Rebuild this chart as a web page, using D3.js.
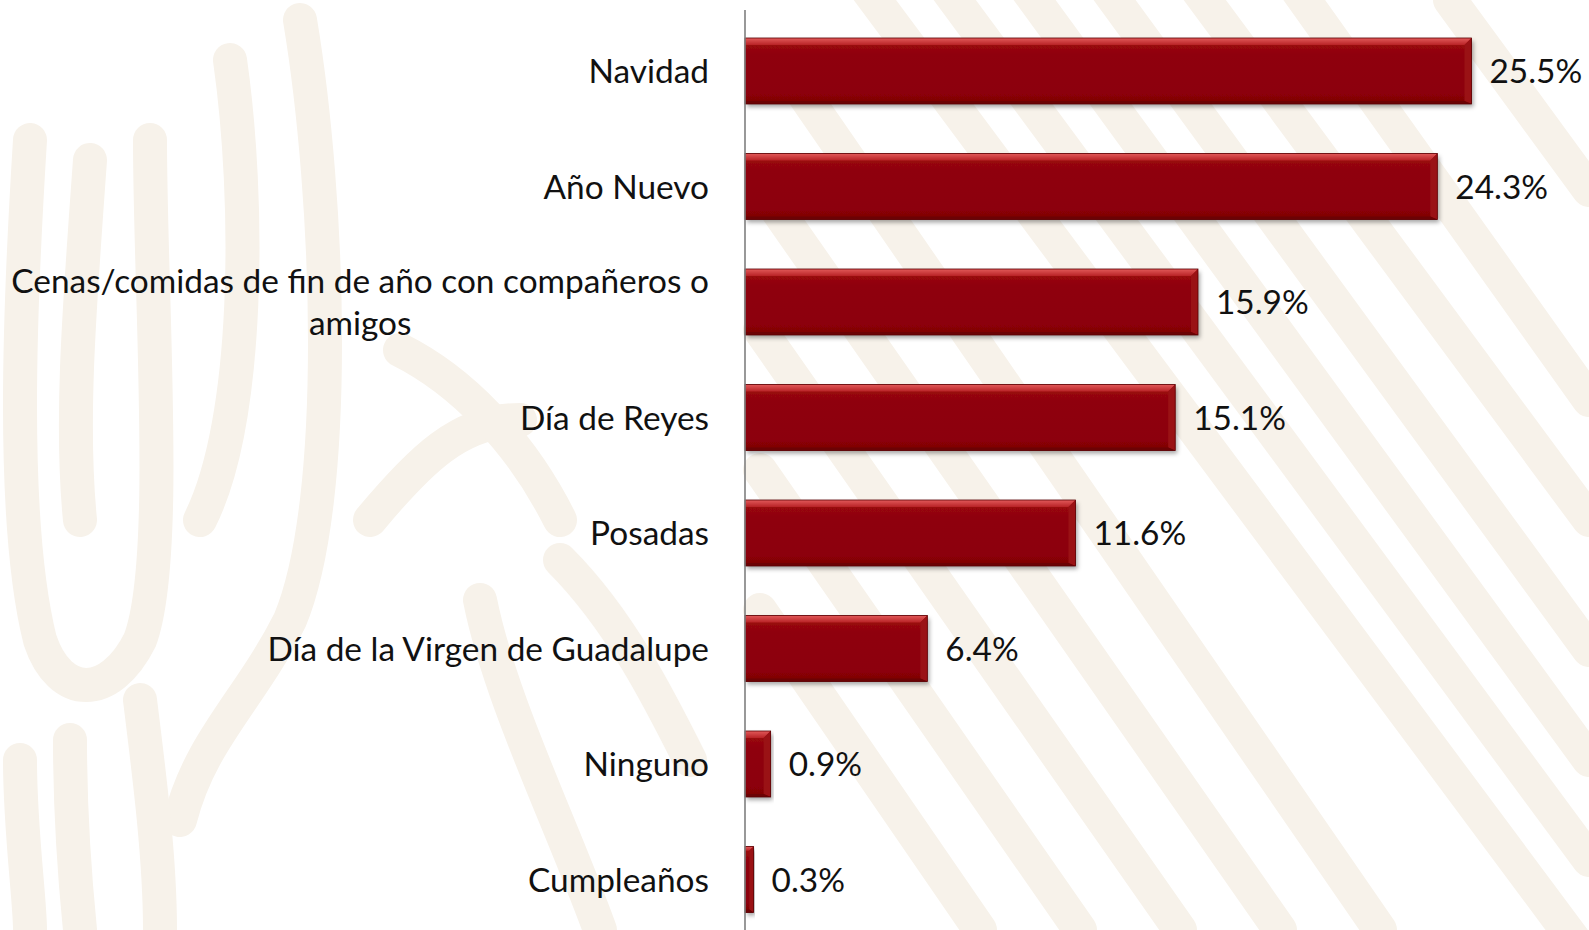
<!DOCTYPE html>
<html><head><meta charset="utf-8">
<script src="https://cdn.jsdelivr.net/npm/d3@7"></script>
<style>
html,body{margin:0;padding:0;background:#fff;overflow:hidden}
svg{display:block}
text{font-family:Lato,"Open Sans",sans-serif;fill:#111}
</style></head>
<body>
<svg id="chart" width="1589" height="930"></svg>
<script>
const categories = ["Navidad","Año Nuevo","Cenas/comidas de fin de año con compañeros o amigos","Día de Reyes","Posadas","Día de la Virgen de Guadalupe","Ninguno","Cumpleaños"];
const labelLines = [["Navidad"],["Año Nuevo"],["Cenas/comidas de fin de año con compañeros o","amigos"],["Día de Reyes"],["Posadas"],["Día de la Virgen de Guadalupe"],["Ninguno"],["Cumpleaños"]];
const values = [25.5,24.3,15.9,15.1,11.6,6.4,0.9,0.3];
const valueLabels = ["25.5%","24.3%","15.9%","15.1%","11.6%","6.4%","0.9%","0.3%"];

const W = 1589, H = 930;
const svg = d3.select("#chart");
const defs = svg.append("defs");

// background watermark (decorative)
const bg = svg.append("g").attr("fill","none").attr("stroke","#f7f2ea").attr("stroke-width",34).attr("stroke-linecap","round");
const diag = [
 "M860,-20 L1589,960","M940,-20 L1589,860","M1020,-20 L1589,760","M1100,-20 L1589,650","M1190,-20 L1589,520","M1290,-20 L1589,400",
 "M780,60 L1380,930","M770,200 L1280,930","M760,330 L1180,930","M760,470 L1080,930","M760,610 L980,930",
 "M1450,0 L1589,190"
];
diag.forEach(d=>bg.append("path").attr("d",d));
const left = [
 "M30,140 C20,300 10,520 40,640 C60,700 110,700 140,640 C170,560 150,300 150,140",
 "M90,160 C80,300 70,420 80,520",
 "M230,60 C250,200 250,420 200,520",
 "M300,20 C330,200 340,500 290,620 C250,700 200,740 180,820",
 "M20,760 C20,830 30,900 30,930",
 "M70,740 C70,820 75,880 80,930",
 "M140,700 C150,780 160,860 160,930",
 "M480,600 C500,700 560,820 600,930",
 "M560,560 C620,620 660,700 690,760",
 "M370,520 C420,460 460,420 520,420",
 "M400,350 C460,380 520,440 560,520"
];
left.forEach(d=>bg.append("path").attr("d",d));

// gradients / filters
const shadow = defs.append("filter").attr("id","sh").attr("x","-5%").attr("y","-20%").attr("width","115%").attr("height","160%");
shadow.append("feDropShadow").attr("dx",2).attr("dy",3).attr("stdDeviation",2).attr("flood-color","#000").attr("flood-opacity",0.35);
const gTop = defs.append("linearGradient").attr("id","gTop").attr("x1",0).attr("y1",0).attr("x2",0).attr("y2",1);
gTop.append("stop").attr("offset","0%").attr("stop-color","#e25a5a");
gTop.append("stop").attr("offset","100%").attr("stop-color","#b82226");
const gMain = defs.append("linearGradient").attr("id","gMain").attr("x1",0).attr("y1",0).attr("x2",0).attr("y2",1);
gMain.append("stop").attr("offset","0%").attr("stop-color","#a0090c");
gMain.append("stop").attr("offset","25%").attr("stop-color","#8f0508");
gMain.append("stop").attr("offset","85%").attr("stop-color","#8c0407");
gMain.append("stop").attr("offset","100%").attr("stop-color","#7a0205");

const x = d3.scaleLinear().domain([0, 25.5]).range([745, 1471.5]);
const y = d3.scaleBand().domain(categories).range([13.25, 937.25]).paddingInner(0.4286).paddingOuter(0.2143);

const bars = svg.append("g").selectAll("g").data(categories).join("g");
bars.each(function(c,i){
  const g = d3.select(this);
  const x0 = x(0), x1 = x(values[i]), y0 = y(c), y1 = y0 + y.bandwidth();
  const b = Math.min(7, (x1-x0)/2);
  g.append("rect").attr("x",x0).attr("y",y0).attr("width",x1-x0).attr("height",y1-y0)
    .attr("fill","url(#gMain)").attr("filter","url(#sh)");
  g.append("path").attr("d",`M${x0},${y0}L${x1},${y0}L${x1-b},${y0+b}L${x0},${y0+b}Z`).attr("fill","url(#gTop)");
  g.append("path").attr("d",`M${x1},${y0}L${x1},${y1}L${x1-b},${y1-3}L${x1-b},${y0+b}Z`).attr("fill","#9a1215");
  g.append("path").attr("d",`M${x0},${y1}L${x1},${y1}L${x1-b},${y1-3}L${x0},${y1-3}Z`).attr("fill","#6c0204");
  g.append("rect").attr("x",x0).attr("y",y0).attr("width",x1-x0).attr("height",y1-y0)
    .attr("fill","none").attr("stroke","#5a0103").attr("stroke-width",0.8);
});

// axis line
const axis = d3.axisLeft(y).tickSize(0).tickFormat("");
svg.append("g").attr("transform",`translate(${x(0)},0)`).call(axis)
  .call(g=>g.select(".domain").attr("d",`M0,10V${H}`).attr("stroke","#7f7f7f").attr("stroke-width",1.6));

const fs = 33.4, capOff = 12;
// category labels
const lab = svg.append("g").attr("font-size",fs);
categories.forEach((c,i)=>{
  const lines = labelLines[i];
  const cy = y(c) + y.bandwidth()/2;
  if(lines.length===1){
    lab.append("text").attr("x",709).attr("y",cy+capOff).attr("text-anchor","end").text(lines[0]);
  } else {
    const t1 = lab.append("text").attr("x",709).attr("y",cy-21+capOff).attr("text-anchor","end").text(lines[0]);
    const w = t1.node().getComputedTextLength();
    lab.append("text").attr("x",709-w/2).attr("y",cy+21+capOff).attr("text-anchor","middle").text(lines[1]);
  }
});

// value labels
svg.append("g").attr("font-size",fs).selectAll("text").data(categories).join("text")
  .attr("x",(c,i)=>x(values[i])+18).attr("y",c=>y(c)+y.bandwidth()/2+capOff)
  .text((c,i)=>valueLabels[i]);
</script>
</body></html>
